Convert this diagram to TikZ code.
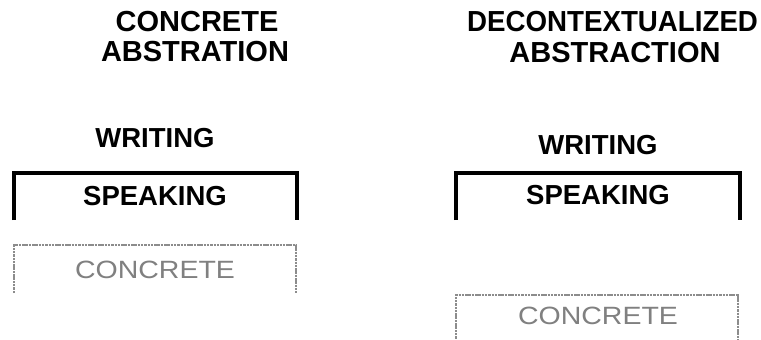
\documentclass[tikz,border=0pt]{standalone}
\usepackage{fontspec}
\setmainfont{Liberation Sans}
\begin{document}
\begin{tikzpicture}[x=1pt,y=-1pt,
  title/.style={font=\fontsize{29}{32}\selectfont\bfseries, inner sep=0pt},
  label/.style={font=\fontsize{27.5}{30}\selectfont\bfseries, inner sep=0pt},
  faint/.style={font=\fontsize{25}{28}\selectfont, text=black!50, inner sep=0pt},
  bracket/.style={line width=3.4pt, line cap=butt, line join=miter},
  greybox/.style={line width=2pt, draw=black!45, dash pattern=on 2.5pt off 0.8pt}
]
\useasboundingbox (0,0) rectangle (761,340);
\clip (0,0) rectangle (761,340);
% left column
\node[title] (t1a) at (197,21.5) {CONCRETE};
\node[title] (t1b) at (195,52) {ABSTRATION};
\node[label] (w1) at (155,138) {WRITING};
\node[label] (s1) at (155,196) {SPEAKING};
\draw[bracket] (14,220) -- (14,173) -- (297,173) -- (297,220);
\node[faint, xscale=1.14] (c1) at (155,270) {CONCRETE};
\draw[greybox] (14,293) -- (14,245) -- (296,245) -- (296,293);
% right column
\node[title, anchor=west, xscale=0.955] (t2a) at (467,21.5) {DECONTEXTUALIZED};
\node[title] (t2b) at (615,53) {ABSTRACTION};
\node[label] (w2) at (598,145) {WRITING};
\node[label] (s2) at (598,195) {SPEAKING};
\draw[bracket] (456,220) -- (456,173) -- (740,173) -- (740,220);
\node[faint, xscale=1.14] (c2) at (598,316) {CONCRETE};
\draw[greybox] (456,342) -- (456,295) -- (738,295) -- (738,342);
\end{tikzpicture}
\end{document}
